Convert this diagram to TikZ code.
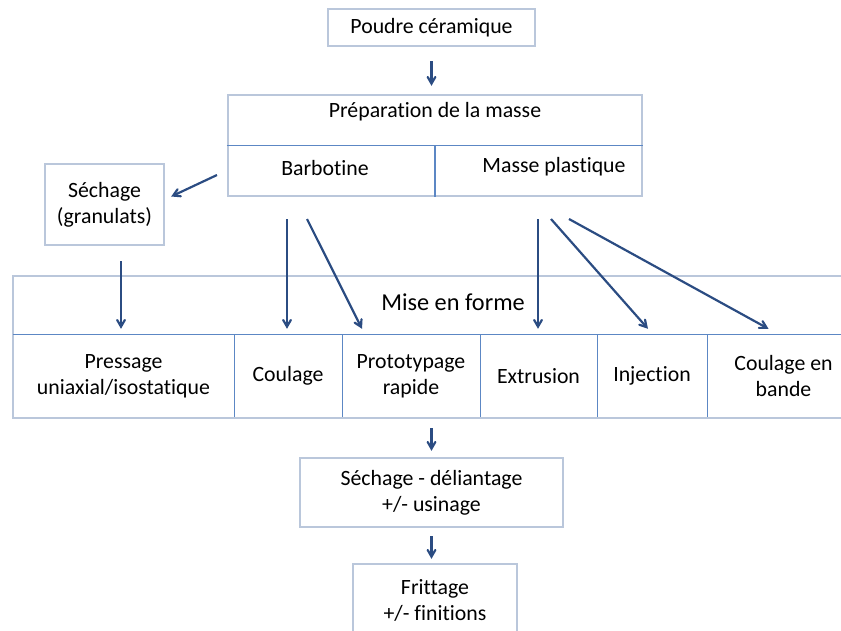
\documentclass[tikz,border=0pt]{standalone}
\usepackage{fontspec}
\setmainfont{Carlito}[Ligatures=NoCommon]
\usepackage{tikz}
\usetikzlibrary{calc}
\usetikzlibrary{arrows}
\definecolor{bbccdd}{rgb}{0.73,0.78,0.86}
\definecolor{ttbbee}{rgb}{0.36,0.53,0.77}
\definecolor{qqttbb}{rgb}{0.17,0.30,0.51}
\tikzstyle{every node}=[font=\fontsize{21.8}{26}\selectfont]
\tikzstyle{boite}=[draw=bbccdd,line width=2.4pt,rectangle,inner sep=0pt,align=center]
\tikzstyle{case}=[rectangle,inner sep=0pt,align=center]
\tikzstyle{trait}=[line width=1.1pt,color=ttbbee]
\tikzstyle{fleche}=[->,line width=2.2pt,color=qqttbb]

\begin{document}
\begin{tikzpicture}[line cap=butt,line join=miter,>=angle 60,x=1pt,y=-1pt]
            \useasboundingbox (0,0) rectangle (841,630);
            \clip (0,0) rectangle (841,630);
            % boites
            \node[boite,minimum width=207,minimum height=37] (poudre) at (431.5,27.5) {Poudre céramique};
            \node[boite,minimum width=414,minimum height=101] (prep) at (435,145.5) {};
            \node[case] (titre) at (435,112) {Préparation de la masse};
            \node[case] (barbo) at (325,168) {Barbotine};
            \node[case] (masse) at (554,167) {Masse plastique};
            \draw[trait] (prep.west) -- (prep.east);
            \draw[trait] (prep.center) -- (prep.south);
            \node[boite,minimum width=119,minimum height=81] (sechage) at (104.5,204.5) {Séchage\\(granulats)};
            \node[boite,minimum width=847,minimum height=142] (mise) at (436.5,347) {};
            \node[case,font=\fontsize{24.3}{29}\selectfont] (forme) at (453,302) {Mise en forme};
            \node[case,minimum width=221,minimum height=82] (pressage) at (123.5,376) {Pressage\\uniaxial/isostatique};
            \node[case,minimum width=108,minimum height=82] (coulage) at (288,376) {Coulage};
            \node[case,minimum width=138,minimum height=82] (proto) at (411,376) {Prototypage\\rapide};
            \node[case,minimum width=117,minimum height=82] (extrusion) at (538.5,376) {Extrusion};
            \node[case,minimum width=110,minimum height=82] (injection) at (652,376) {Injection};
            \node[case,minimum width=153,minimum height=82] (bande) at (783.5,376) {Coulage en\\bande};
            \draw[trait] (pressage.north west) -- (bande.north east);
            \draw[trait] (pressage.north east) -- (pressage.south east);
            \draw[trait] (coulage.north east) -- (coulage.south east);
            \draw[trait] (proto.north east) -- (proto.south east);
            \draw[trait] (extrusion.north east) -- (extrusion.south east);
            \draw[trait] (injection.north east) -- (injection.south east);
            \node[boite,minimum width=263,minimum height=69] (seche) at (431.5,492.5) {Séchage - déliantage\\+/- usinage};
            \node[boite,minimum width=164,minimum height=72] (frittage) at (435,600) {Frittage\\+/- finitions};
            % departs des fleches
            \coordinate (d0) at (217,175);
            \coordinate (d1) at (121,261);
            \coordinate (d2) at (287,219);
            \coordinate (d3) at (307,219);
            \coordinate (d4) at (538,219);
            \coordinate (d5) at (551,219);
            \coordinate (d6) at (569,219);
            % fleches
            \draw[fleche] ($(poudre.south)+(0,14)$) -- ($(prep.north -| poudre.south)+(0,-8)$);
            \draw[fleche] (d0) -- ($(sechage.east)+(6,-8)$);
            \draw[fleche] (d1) -- ($(d1 |- pressage.north)+(0,-6)$);
            \draw[fleche] (d2) -- ($(d2 |- coulage.north)+(0,-6)$);
            \draw[fleche] (d3) -- ($(proto.north)+(-49,-6)$);
            \draw[fleche] (d4) -- ($(d4 |- extrusion.north)+(0,-6)$);
            \draw[fleche] (d5) -- ($(injection.north)+(-4,-6)$);
            \draw[fleche] (d6) -- ($(bande.north)+(-15,-6)$);
            \draw[fleche] ($(mise.south -| seche.north)+(0,9)$) -- ($(seche.north)+(0,-6)$);
            \draw[fleche] ($(seche.south)+(0,8)$) -- ($(frittage.north -| seche.south)+(0,-4)$);
\end{tikzpicture}
\end{document}
